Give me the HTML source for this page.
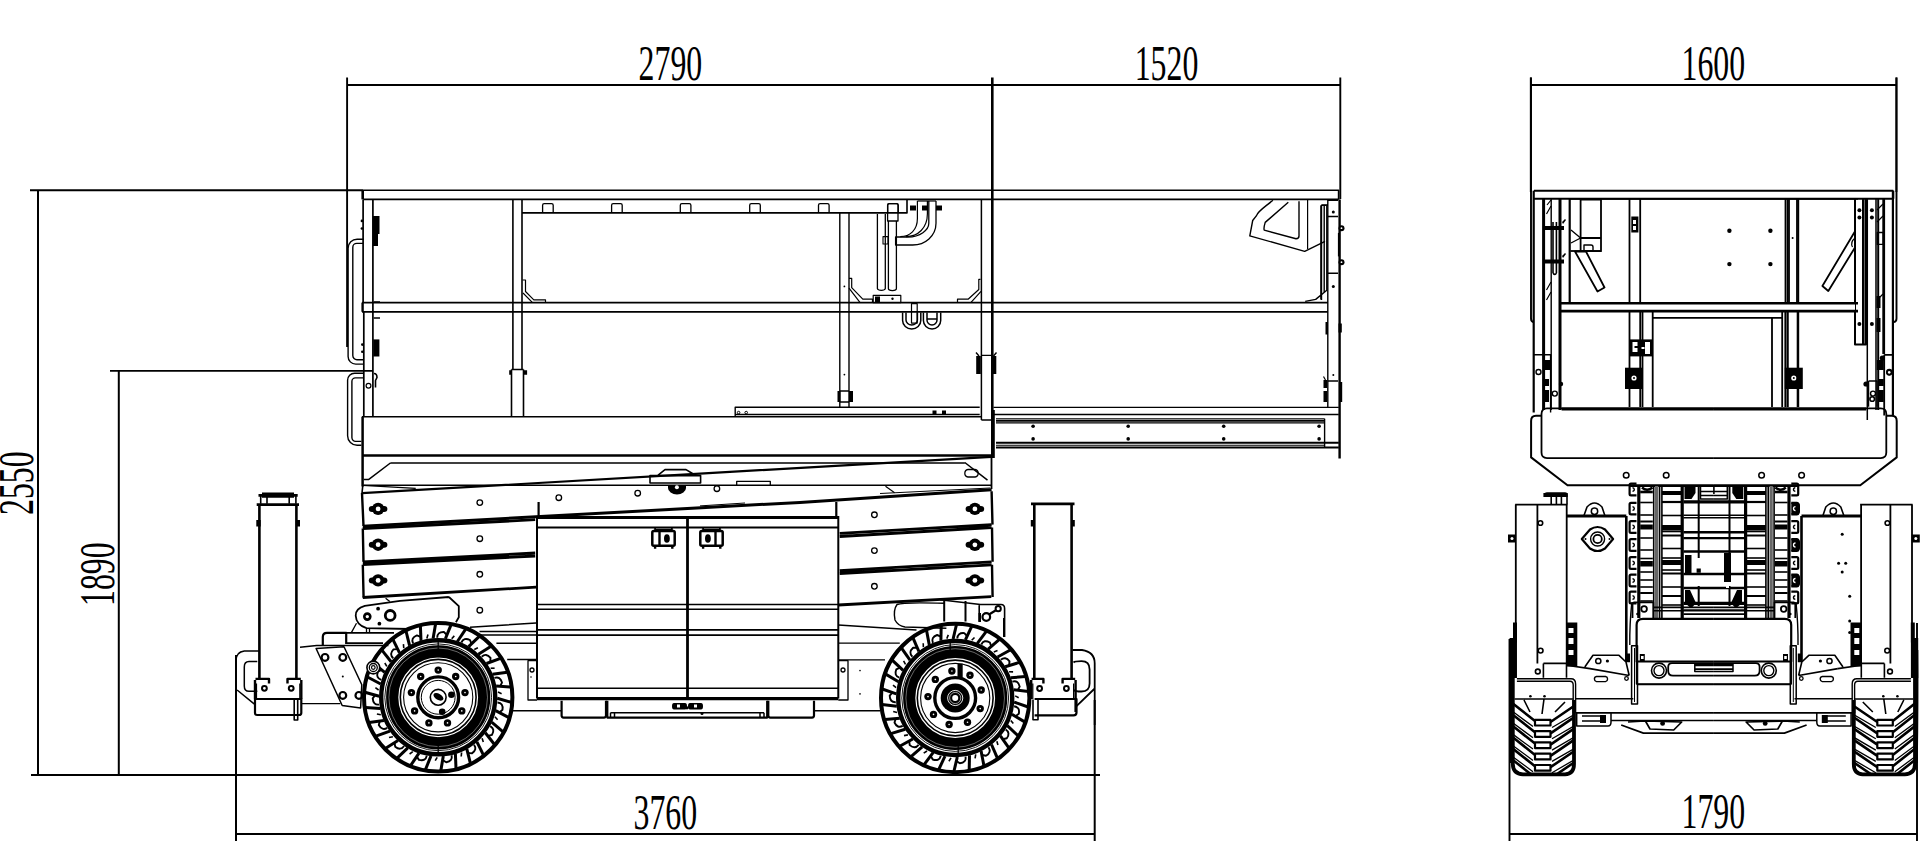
<!DOCTYPE html>
<html><head><meta charset="utf-8"><style>
html,body{margin:0;padding:0;background:#fff;width:1920px;height:842px;overflow:hidden}
svg{display:block}
.t{font-family:"Liberation Serif",serif;font-size:51px;fill:#000}
</style></head><body>
<svg width="1920" height="842" viewBox="0 0 1920 842">
<g fill="none" stroke="#000" stroke-width="1.6" stroke-linecap="butt" stroke-linejoin="round">
<path d="M347 85H1340" stroke-width="2.0" />
<path d="M347.1 77.5V347 M1340.3 77.5V199" stroke-width="1.9" />
<path d="M1530 85H1896.5" stroke-width="2.0" />
<path d="M1530.8 77.5V192 M1896.4 77.5V192" stroke-width="1.9" />
<path d="M30 190.3H363" stroke-width="1.9" />
<path d="M38 190V775" stroke-width="2.0" />
<path d="M110 370.9H373" stroke-width="1.9" />
<path d="M118.8 370.5V775" stroke-width="2.0" />
<path d="M31 775H1100" stroke-width="2.0" />
<path d="M236 655V841" stroke-width="2.0" />
<path d="M236 834H1095" stroke-width="2.0" />
<path d="M992.3 77.5V458" stroke-width="2.6" />
<path d="M363 190.3H1338.6V199.4 M363.3 199.4H1338.6" stroke-width="1.6" />
<path d="M361.4 190.5h2.6v8.9h-2.6z" fill="#000" stroke="none"/>
<path d="M522 212.9H907V199.4" stroke-width="1.6" />
<path d="M542.6 212.9V205.2q0-1.6 1.6-1.6h7.4q1.6 0 1.6 1.6V212.9" stroke-width="1.3" />
<path d="M611.6 212.9V205.2q0-1.6 1.6-1.6h7.4q1.6 0 1.6 1.6V212.9" stroke-width="1.3" />
<path d="M680.3 212.9V205.2q0-1.6 1.6-1.6h7.4q1.6 0 1.6 1.6V212.9" stroke-width="1.3" />
<path d="M749.7 212.9V205.2q0-1.6 1.6-1.6h7.4q1.6 0 1.6 1.6V212.9" stroke-width="1.3" />
<path d="M818.5 212.9V205.2q0-1.6 1.6-1.6h7.4q1.6 0 1.6 1.6V212.9" stroke-width="1.3" />
<path d="M887.7 212.9V205.2q0-1.6 1.6-1.6h7.4q1.6 0 1.6 1.6V212.9" stroke-width="1.3" />
<path d="M363.1 199.4V302.6 M363.8 311.8V416.7 M372.9 199.4V416.7" stroke-width="1.7" />
<path d="M512.9 199.4V369.5 M522 199.4V369.5 M511.5 369.5H523.5 M511.5 369.5V416.7 M523.5 369.5V416.7" stroke-width="1.6" />
<path d="M509.2 370.3h2.3v4.4h-2.3z M523.5 370.3h3.6v4.4h-3.6z" fill="#000" stroke="none"/>
<path d="M839.8 212.9V407.2 M849 212.9V407.2" stroke-width="1.4" />
<path d="M981.4 199.4V420 M981.4 420H991" stroke-width="1.5" />
<path d="M362 302.6H1327.8 M362 311.8H1327.8" stroke-width="1.7" />
<path d="M361.4 302.6h2.4v9.2h-2.4z" fill="#000" stroke="none"/>
<path d="M373.7 301.8H380 M373.7 318H380" stroke-width="1.3" />
<path d="M373 216h6.5v18h-1.5v12h-5z" fill="#000" stroke="none"/>
<path d="M373.2 339.4h6.2v17.1h-6.2z" fill="#000" stroke="none"/>
<circle cx="361.9" cy="220.9" r="1.3" stroke-width="0" fill="#000"/>
<circle cx="361.9" cy="228.5" r="1.3" stroke-width="0" fill="#000"/>
<circle cx="362.3" cy="344.6" r="1.3" stroke-width="0" fill="#000"/>
<circle cx="362.3" cy="351.8" r="1.3" stroke-width="0" fill="#000"/>
<circle cx="368.5" cy="385.7" r="2.4" stroke-width="1.2"/>
<path d="M374 373.5q3 0 3 4l-1.5 3v7" stroke-width="1.6" />
<path d="M363.8 239.2H357.1A9 9 0 0 0 348.1 248.2V356.5A7.6 7.6 0 0 0 355.7 364.1H363.8" stroke-width="1.4" />
<path d="M363 243.4H356.8A4 4 0 0 0 352.8 247.4V355.6A4.2 4.2 0 0 0 357 359.8H363" stroke-width="1.4" />
<path d="M363.3 373.3H354.6A7 7 0 0 0 347.6 380.3V435.7A9.5 9.5 0 0 0 357.1 445.2H361.4" stroke-width="1.4" />
<path d="M363.3 377.9H355.4A3.5 3.5 0 0 0 351.9 381.4V437.6A3.8 3.8 0 0 0 355.7 441.4H361.4" stroke-width="1.4" />
<path d="M522.5 280H525.5V291.5L533.8 299.8H545.5V302.6 M523 293L532.5 302.6" stroke-width="1.2" />
<path d="M849 278.4H851.7V287.7L862.8 299.2H872.5V302.6 M849 288.2L860.1 302.6" stroke-width="1.2" />
<path d="M980.5 279.3H978.8V289.5L968.1 299.2H957.5V302.6 M981 291.3L970.8 302.6" stroke-width="1.2" />
<path d="M877.4 214V288.6A4 2 0 0 0 885.3 288.6V214 M888.4 221V288.6A4 2 0 0 0 896.4 288.6V221" stroke-width="1.3" />
<path d="M887.6 212.9V205.2q0-1.6 1.6-1.6h7.2q1.6 0 1.6 1.6V221H887.6z" stroke-width="1.3" />
<path d="M883 236.6h5v7.4h-5z" stroke-width="1.1" />
<path d="M936 201V223.3C936 236 925 245 912.7 245H895.6V237H908C920 237 928.8 230 928.8 223.3V201" stroke-width="1.3" />
<path d="M927.4 201V213.8C927.4 228 918 236.6 906 236.6 M917.4 201V218.5C917.4 230 910 236.6 900.3 236.6" stroke-width="1.2" />
<path d="M917.4 201H936" stroke-width="1.2" />
<path d="M910 205.5h6v5h-6z" fill="#000" stroke="none"/>
<path d="M922 205.5h6v5h-6z" fill="#000" stroke="none"/>
<path d="M936 205.5h6v5h-6z" fill="#000" stroke="none"/>
<path d="M873.2 295.4H900.8V302.6H873.2Z" stroke-width="1.2" />
<path d="M875 296.5h5v5.5h-5z" fill="#000" stroke="none"/>
<circle cx="892.5" cy="298.8" r="1.2" stroke-width="0" fill="#000"/>
<path d="M902.6 312.5V320.5A9.1 8.4 0 0 0 920.8 320.5V312.5 M906 312.5V320A5.7 5 0 0 0 917.4 320V312.5" stroke-width="1.5" />
<path d="M923.4 312.5V320.5A8.65 8.4 0 0 0 940.7 320.5V312.5 M927 312.5V320A5 5 0 0 0 937 320V312.5 M927 319H937" stroke-width="1.5" />
<path d="M911.5 303.6h5.7v19.5h-5.7z" stroke-width="1.2" />
<path d="M1327.8 199.4V407 M1321.5 205V300 M1321.5 205H1327.8" stroke-width="1.4" />
<path d="M1339.6 199.4V458.6" stroke-width="2.4" />
<path d="M1272.9 200.2C1265 207 1258 211 1256.5 215.6L1252.7 220.5L1249.8 235.9L1304.7 251.3L1325 241.3" stroke-width="1.4" />
<path d="M1288.3 202.2L1265.2 222.4Q1263.5 228 1264.2 230.1L1296 238.8Q1299 238.5 1299 235.9V201.2" stroke-width="1.4" />
<path d="M1307.6 200V249" stroke-width="1.2" />
<path d="M1327.8 200.2H1338 M1327.8 216.5H1338 M1327.8 273.3H1338 M1327.8 381H1338" stroke-width="1.4" />
<path d="M1320.9 205.4V299.4 M1320.9 205.4H1326.8 M1326.8 205.4V290.3L1315.7 299.4L1305.2 301.4 M1324.2 205.4V292" stroke-width="1.4" />
<circle cx="1333.3" cy="212.0" r="1.5" stroke-width="0" fill="#000"/>
<circle cx="1333.3" cy="286.4" r="1.5" stroke-width="0" fill="#000"/>
<circle cx="1333.3" cy="375.0" r="1.0" stroke-width="0" fill="#000"/>
<circle cx="1341.5" cy="228.2" r="3.0" stroke-width="0" fill="#000"/>
<circle cx="1341.5" cy="228.2" r="0.9" stroke-width="0" fill="#fff"/>
<circle cx="1341.5" cy="262.2" r="3.0" stroke-width="0" fill="#000"/>
<circle cx="1341.5" cy="262.2" r="0.9" stroke-width="0" fill="#fff"/>
<path d="M1337.9 232.9h1.6v23.5h-1.6z" fill="#000" stroke="none"/>
<path d="M1325.5 322h2.5v12.6h-2.5z M1338.5 323.5h3.3v9h-3.3z" fill="#000" stroke="none"/>
<path d="M1323.5 380h3.5v8h-3.5z M1323.5 391h3.5v11h-3.5z M1339.2 382h3v20h-3z" fill="#000" stroke="none"/>
<path d="M1323.5 376.5L1325.5 380" stroke-width="1.2" />
<path d="M976.2 356h4.6v18h-4.6z M992 356h4.3v18h-4.3z" fill="#000" stroke="none"/>
<path d="M976 352.5L979 356 M996.5 352.5L993.5 356 M981.4 355.4H991" stroke-width="1.4" />
<path d="M837.5 391h3v11h-3z M849 391h4v11h-4z" fill="#000" stroke="none"/>
<path d="M840 391H849 M840 402H849" stroke-width="1.3" />
<circle cx="844.4" cy="286.4" r="0.9" stroke-width="0" fill="#000"/>
<circle cx="844.4" cy="374.6" r="0.9" stroke-width="0" fill="#000"/>
<circle cx="738.6" cy="412.6" r="1.3" stroke-width="1.0"/>
<circle cx="746.2" cy="412.6" r="1.3" stroke-width="1.0"/>
<path d="M932.5 410.5h4v4h-4z M942 410.5h4v4h-4z" fill="#000" stroke="none"/>
<path d="M735.2 416.7V407.2H979.7 M735.2 414.5H979.7" stroke-width="1.4" />
<path d="M362 416.7H981" stroke-width="1.6" />
<path d="M362 455.5H993" stroke-width="2.6" />
<path d="M362.6 416.7V486.5" stroke-width="2.5" />
<path d="M993.3 410V458" stroke-width="3.0" />
<path d="M390.4 463H964.8 M390.4 463L368.5 479.6H363.8 M964.8 462.5L987.5 480.2" stroke-width="1.5" />
<path d="M363.8 485.2H991.4" stroke-width="1.6" />
<path d="M991.5 458V489" stroke-width="1.8" />
<path d="M993.5 407.4H1338.8" stroke-width="1.4" />
<path d="M993.5 414.5H1338.8" stroke-width="1.6" />
<path d="M996 418.7H1324.6 M996 422.9H1324.6 M996 445.3H1324.6" stroke-width="1.1" />
<path d="M996 420.8H1324.6 M996 442.8H1338.8 M996 447.5H1338.8" stroke-width="2.0" />
<path d="M1324.6 418.7V447.5" stroke-width="1.4" />
<circle cx="1033.1" cy="426.3" r="1.8" stroke-width="0" fill="#000"/>
<circle cx="1033.1" cy="438.9" r="1.8" stroke-width="0" fill="#000"/>
<circle cx="1128.2" cy="426.3" r="1.8" stroke-width="0" fill="#000"/>
<circle cx="1128.2" cy="438.9" r="1.8" stroke-width="0" fill="#000"/>
<circle cx="1223.7" cy="426.3" r="1.8" stroke-width="0" fill="#000"/>
<circle cx="1223.7" cy="438.9" r="1.8" stroke-width="0" fill="#000"/>
<circle cx="1319.1" cy="426.3" r="1.8" stroke-width="0" fill="#000"/>
<circle cx="1319.1" cy="438.9" r="1.8" stroke-width="0" fill="#000"/>
<path d="M362 493.2L700 473.6L991.3 456.8" stroke-width="2.2" />
<path d="M362.8 485.4L415.7 488.3" stroke-width="1.3" />
<path d="M362.8 526.2L800 502.4L991.6 489.8" stroke-width="3.0" />
<path d="M362.8 485.4L362 493.2" stroke-width="1.6" />
<path d="M362.8 528.5L535.2 519.7 M362.8 561.8L535.2 553 M362.8 564.7L535.2 556" stroke-width="2.8" />
<path d="M362.8 597.5L536.1 587.1" stroke-width="2.8" />
<path d="M362 493L363.5 526 M362.8 528.5L363.5 561.8 M362.8 564.7L363.6 597.7" stroke-width="2.4" />
<path d="M839.7 533.4L991.6 524.6 M839.7 536.5L991.6 527.5 M839.7 570.6L991.6 561.8 M839.7 573.5L991.6 564.8 M838.3 605L991.3 596.6" stroke-width="2.8" />
<path d="M991.6 491.3L992.5 524.6 M992 527.5L992.6 561.8 M992 564.8L992.6 597" stroke-width="2.4" />
<path d="M700 505.9L745 503 M880 493.5L990 488" stroke-width="1.0" />
<path d="M885.5 486.3L894.6 492.8" stroke-width="1.2" />
<circle cx="378.1" cy="508.9" r="6.2" stroke-width="0" fill="#000"/>
<path d="M368.8 508.9Q368.8 505.9 372.1 505.9H384.1Q387.40000000000003 505.9 387.40000000000003 508.9Q387.40000000000003 511.9 384.1 511.9H372.1Q368.8 511.9 368.8 508.9Z" fill="#000" stroke="none"/>
<circle cx="378.1" cy="508.9" r="2.4" stroke-width="0" fill="#fff"/>
<circle cx="378.1" cy="544.7" r="6.2" stroke-width="0" fill="#000"/>
<path d="M368.8 544.7Q368.8 541.7 372.1 541.7H384.1Q387.40000000000003 541.7 387.40000000000003 544.7Q387.40000000000003 547.7 384.1 547.7H372.1Q368.8 547.7 368.8 544.7Z" fill="#000" stroke="none"/>
<circle cx="378.1" cy="544.7" r="2.4" stroke-width="0" fill="#fff"/>
<circle cx="378.1" cy="580.4" r="6.2" stroke-width="0" fill="#000"/>
<path d="M368.8 580.4Q368.8 577.4 372.1 577.4H384.1Q387.40000000000003 577.4 387.40000000000003 580.4Q387.40000000000003 583.4 384.1 583.4H372.1Q368.8 583.4 368.8 580.4Z" fill="#000" stroke="none"/>
<circle cx="378.1" cy="580.4" r="2.4" stroke-width="0" fill="#fff"/>
<circle cx="974.9" cy="508.9" r="6.2" stroke-width="0" fill="#000"/>
<path d="M965.6 508.9Q965.6 505.9 968.9 505.9H980.9Q984.1999999999999 505.9 984.1999999999999 508.9Q984.1999999999999 511.9 980.9 511.9H968.9Q965.6 511.9 965.6 508.9Z" fill="#000" stroke="none"/>
<circle cx="974.9" cy="508.9" r="2.4" stroke-width="0" fill="#fff"/>
<circle cx="974.9" cy="544.8" r="6.2" stroke-width="0" fill="#000"/>
<path d="M965.6 544.8Q965.6 541.8 968.9 541.8H980.9Q984.1999999999999 541.8 984.1999999999999 544.8Q984.1999999999999 547.8 980.9 547.8H968.9Q965.6 547.8 965.6 544.8Z" fill="#000" stroke="none"/>
<circle cx="974.9" cy="544.8" r="2.4" stroke-width="0" fill="#fff"/>
<circle cx="974.9" cy="580.4" r="6.2" stroke-width="0" fill="#000"/>
<path d="M965.6 580.4Q965.6 577.4 968.9 577.4H980.9Q984.1999999999999 577.4 984.1999999999999 580.4Q984.1999999999999 583.4 980.9 583.4H968.9Q965.6 583.4 965.6 580.4Z" fill="#000" stroke="none"/>
<circle cx="974.9" cy="580.4" r="2.4" stroke-width="0" fill="#fff"/>
<circle cx="479.8" cy="502.6" r="2.8" stroke-width="1.3"/>
<circle cx="479.8" cy="538.7" r="2.8" stroke-width="1.3"/>
<circle cx="479.8" cy="574.3" r="2.8" stroke-width="1.3"/>
<circle cx="479.8" cy="610.2" r="2.8" stroke-width="1.3"/>
<circle cx="558.8" cy="497.7" r="2.8" stroke-width="1.3"/>
<circle cx="637.7" cy="493.2" r="2.8" stroke-width="1.3"/>
<circle cx="874.4" cy="514.8" r="2.8" stroke-width="1.3"/>
<circle cx="874.4" cy="550.6" r="2.8" stroke-width="1.3"/>
<circle cx="874.4" cy="586.3" r="2.8" stroke-width="1.3"/>
<circle cx="716.9" cy="488.7" r="2.8" stroke-width="1.3"/>
<path d="M650 475.6H700.6V483H650Z M657.5 475.6L665 469.6H686L692.5 473.5" stroke-width="1.6" />
<path d="M668 485.4h18v2.5a9 6.5 0 0 1-18 0z" fill="#000" stroke="none"/>
<circle cx="676.9" cy="487.2" r="2.0" stroke-width="0" fill="#fff"/>
<path d="M736.7 485.2V481.4H770.3V485.2" stroke-width="1.3" />
<path d="M968 469.5H975A3.8 3.8 0 0 1 975 477H968A3.8 3.8 0 0 1 968 469.5Z" stroke-width="1.3" />
<path d="M538.6 502V517 M836.3 502V517" stroke-width="2.2" />
<path d="M537 517.5H838.3" stroke-width="3.2" />
<path d="M537 517V698.6 M838.3 516V698.6" stroke-width="2.0" />
<path d="M537 698.6H838.3" stroke-width="3.2" />
<path d="M687.5 517V698" stroke-width="2.8" />
<path d="M537 527.5H838.3" stroke-width="2.0" />
<path d="M537 604.5H838.3 M537 609.3H838.3 M537 629.9H838.3 M537 635.1H838.3 M537 688.2H838.3" stroke-width="1.6" />
<path d="M653.8 531.1H673.1999999999999Q674.6999999999999 531.1 674.6999999999999 532.6V544.2Q674.6999999999999 545.7 673.1999999999999 545.7H653.8Q652.3 545.7 652.3 544.2V532.6Q652.3 531.1 653.8 531.1Z" stroke-width="2.5" />
<path d="M659.5 531.5V545.3" stroke-width="2.4" />
<ellipse cx="666.9" cy="538.5" rx="2.9" ry="4.3" fill="#000" stroke="none"/>
<path d="M655.0999999999999 527.5V531 M671.9 527.5V531 M655.8 529.6H671.3" stroke-width="1.8" />
<path d="M653.9 545.5h2.4v3.2h-2.4z M671.0999999999999 545.5h2.4v3.2h-2.4z" fill="#000" stroke="none"/>
<path d="M701.8 531.1H721.1999999999999Q722.6999999999999 531.1 722.6999999999999 532.6V544.2Q722.6999999999999 545.7 721.1999999999999 545.7H701.8Q700.3 545.7 700.3 544.2V532.6Q700.3 531.1 701.8 531.1Z" stroke-width="2.5" />
<path d="M715.5 531.5V545.3" stroke-width="2.4" />
<ellipse cx="707.9" cy="538.5" rx="2.9" ry="4.3" fill="#000" stroke="none"/>
<path d="M703.0999999999999 527.5V531 M719.9 527.5V531 M703.8 529.6H719.3" stroke-width="1.8" />
<path d="M701.9 545.5h2.4v3.2h-2.4z M719.0999999999999 545.5h2.4v3.2h-2.4z" fill="#000" stroke="none"/>
<path d="M512 710.7H561.8 M814 710.7H880" stroke-width="1.6" />
<path d="M561.6 700.8V715.6Q561.6 717.6 563.6 717.6H604Q606 717.6 606 715.6V700.8" stroke-width="2.2" />
<path d="M607.3 700.8V717.6H767.2V700.8" stroke-width="2.2" />
<path d="M610.5 712.7H764 M610.5 712.7V717.6 M614.5 712.7V717.6 M760 712.7V717.6 M764 712.7V717.6" stroke-width="1.5" />
<path d="M768.3 700.8V715.6Q768.3 717.6 770.3 717.6H812Q814 717.6 814 715.6V700.8" stroke-width="2.2" />
<path d="M674 703h11q2 0 2 3.2t-2 3.2h-11q-2 0-2-3.2t2-3.2z M690 703h11q2 0 2 3.2t-2 3.2h-11q-2 0-2-3.2t2-3.2z" fill="#000" stroke="none"/>
<path d="M677 704.5h3v3h-3zM694 704.5h3v3h-3z" fill="#fff" stroke="none"/>
<circle cx="687.0" cy="707.8" r="1.6" stroke-width="0" fill="#000"/>
<circle cx="702.0" cy="713.5" r="1.5" stroke-width="0" fill="#000"/>
<path d="M537 660.7H528V700H537 M838.3 660.7H848V700H838.3" stroke-width="1.3" />
<circle cx="532.0" cy="670.0" r="2.0" stroke-width="1.3"/>
<circle cx="843.0" cy="670.0" r="2.0" stroke-width="1.3"/>
<circle cx="860.0" cy="670.6" r="0.8" stroke-width="0" fill="#000"/>
<circle cx="860.0" cy="693.9" r="0.8" stroke-width="0" fill="#000"/>
<circle cx="531.0" cy="677.0" r="0.8" stroke-width="0" fill="#000"/>
<path d="M448.9 597L458.8 606.1V617.3L455.9 622.3 M448.9 597L400 600.8L364.8 605.8C358.5 607.5 355.5 611.5 355.7 615.8C356 621 359.5 626 366.5 628.2L410 629" stroke-width="1.8" />
<circle cx="367.3" cy="616.6" r="3.0" stroke-width="2.6"/>
<circle cx="390.2" cy="615.4" r="4.9" stroke-width="2.8"/>
<circle cx="378.1" cy="608.7" r="1.9" stroke-width="0" fill="#000"/>
<circle cx="379.4" cy="623.7" r="1.9" stroke-width="0" fill="#000"/>
<path d="M356.5 623.3L351.5 632.4 M366.5 628.5V633 M369.5 628.5V633 M385.6 598.3L389.8 601.6" stroke-width="1.3" />
<path d="M470 627.2L536.1 623 M916.5 629.9L838.3 624.9" stroke-width="1.5" />
<path d="M944 603.3Q903 602 897 604.5Q893 610 895 620Q898 626 905 627L946.4 628.2" stroke-width="1.4" />
<path d="M944.2 600.8V621.6 M965.5 601V621.6" stroke-width="2.0" />
<path d="M940 599.8L980.4 604.5H1001Q1004.6 604.5 1004.6 608.5V637 M979.2 605V621.8" stroke-width="1.6" />
<circle cx="986.3" cy="617.0" r="3.8" stroke-width="2.2"/>
<circle cx="998.2" cy="608.7" r="2.6" stroke-width="2.0"/>
<path d="M989 614.5L995.5 610.5" stroke-width="2.2" />
<path d="M978.5 613h2.5v9h-2.5z" fill="#000" stroke="none"/>
<path d="M1003.6 618V637" stroke-width="1.2" />
<path d="M346.2 632.8H394 M346.2 643.2H383" stroke-width="1.7" />
<path d="M322.8 645V637Q322.8 632.8 327 632.8H346.2V644" stroke-width="2.2" />
<path d="M300 647.3L316.7 645.5H388.4" stroke-width="1.5" />
<path d="M479.5 631.5H537 M481 635H537 M496.4 643.3H537 M507.2 659.5H537" stroke-width="1.6" />
<path d="M838.3 643.2H899.8 M838.3 659.8H885" stroke-width="1.3" />
<path d="M301.3 703.7H340.4" stroke-width="1.3" />
<path d="M316.1 648.5L342.2 705.5L360.6 707.9L361.8 684.7L344 646.7Z" stroke-width="1.5" />
<circle cx="325.0" cy="657.4" r="3.4" stroke-width="2.2"/>
<circle cx="342.8" cy="657.4" r="3.4" stroke-width="2.2"/>
<circle cx="342.8" cy="695.4" r="3.4" stroke-width="2.2"/>
<circle cx="358.9" cy="695.4" r="3.4" stroke-width="2.2"/>
<circle cx="342.8" cy="676.4" r="1.0" stroke-width="0" fill="#000"/>
<path d="M259.4 504.6V678.2 M296.4 504.6V678.2" stroke-width="2.6" />
<path d="M256.7 504.6H299" stroke-width="2.8" />
<path d="M260.7 503.7V494.8 M267 503.7V497 M289.2 503.7V497 M295.9 503.7V494.8" stroke-width="1.6" />
<path d="M258.5 494h39.2v2.8h-39.2z M262 492.6h32v5.2h-32z" fill="#000" stroke="none"/>
<path d="M256.3 520h4.4v6.6h-4.4z M296.4 520h3.6v6.6h-3.6z" fill="#000" stroke="none"/>
<path d="M255 680V699 M255.5 678.9H269V683.5 M301.3 680V699 M300.8 678.9H287.5V683.5" stroke-width="2.4" />
<path d="M256.5 683.5V699 M299.8 683.5V699" stroke-width="1.2" />
<path d="M255 699H301.3V713Q301.3 715 299 715H257Q255 715 255 713Z" stroke-width="2.2" />
<path d="M294.2 699V720H297.7V699" stroke-width="1.6" />
<circle cx="264.4" cy="688.3" r="2.4" stroke-width="2.0"/>
<circle cx="291.2" cy="688.3" r="2.4" stroke-width="2.0"/>
<path d="M259 650.9H244.3Q236 652 236 660.4 M237.1 690L253.8 703.7H256" stroke-width="1.5" />
<path d="M257.3 661.6H249Q244.3 661.6 244.3 667V686Q244.3 691.3 249 691.3H257.3" stroke-width="1.5" />
<path d="M1034.3 503.6V678.9 M1071.6 503.6V678.9" stroke-width="2.6" />
<path d="M1031 503.8H1074.5" stroke-width="2.8" />
<path d="M1030.8 520h3v6.6h-3z M1071.6 520h3.2v6.6h-3.2z" fill="#000" stroke="none"/>
<path d="M1031.2 680V699 M1031.6 678.9H1043.4V683.5 M1075.6 680V712 M1075.2 678.9H1062.6V683.5" stroke-width="2.4" />
<path d="M1032.8 683.5V699 M1073.6 683.5V699" stroke-width="1.2" />
<path d="M1034.6 699H1076.5V712.5Q1076.5 715.3 1073.5 715.3H1034.6" stroke-width="2.2" />
<path d="M1033 699.6V719.8H1038V699.6" stroke-width="1.6" />
<circle cx="1039.6" cy="688.5" r="2.4" stroke-width="2.0"/>
<circle cx="1066.4" cy="688.5" r="2.4" stroke-width="2.0"/>
<path d="M1072.5 650H1082Q1094.7 652 1094.7 663.2V725 M1094.7 688.5L1076 706.7" stroke-width="1.8" />
<path d="M1073.5 662.5Q1075 661.2 1081.5 661.2Q1089.6 661.2 1089.6 669.5V683.5Q1089.6 691.5 1081.5 691.5Q1075 691.5 1073.5 690" stroke-width="1.8" />
<path d="M1094.7 700V841" stroke-width="2.0" />
<circle cx="438.2" cy="697.3" r="74.2" stroke-width="4.0"/>
<path d="M497.2 698.3L511.5 702.4" stroke-width="3.0" />
<path d="M497.5 702.5Q503.5 703.0 502.5 709.8L499.4 712.4" stroke-width="1.9" />
<path d="M495.7 710.6L508.9 717.6" stroke-width="3.0" />
<path d="M494.9 716.8L497.6 719.8" stroke-width="1.6" />
<path d="M491.7 722.2L503.1 731.8" stroke-width="3.0" />
<path d="M490.2 726.1Q495.5 729.1 491.9 734.9L487.9 736.0" stroke-width="1.9" />
<path d="M485.3 732.8L494.5 744.5" stroke-width="3.0" />
<path d="M482.1 738.2L483.3 742.0" stroke-width="1.6" />
<path d="M476.9 741.8L483.5 755.2" stroke-width="3.0" />
<path d="M474.0 744.8Q477.6 749.6 471.9 753.4L467.9 752.9" stroke-width="1.9" />
<path d="M466.8 748.9L470.4 763.4" stroke-width="3.0" />
<path d="M461.6 752.5L461.2 756.5" stroke-width="1.6" />
<path d="M455.4 753.7L456.0 768.6" stroke-width="3.0" />
<path d="M451.6 755.3Q452.9 761.1 446.2 762.3L442.7 760.1" stroke-width="1.9" />
<path d="M443.3 756.1L440.8 770.8" stroke-width="3.0" />
<path d="M437.2 757.3L435.2 760.7" stroke-width="1.6" />
<path d="M431.0 755.9L425.4 769.7" stroke-width="3.0" />
<path d="M426.8 755.7Q425.7 761.6 419.0 759.9L416.8 756.6" stroke-width="1.9" />
<path d="M419.0 753.1L410.7 765.4" stroke-width="3.0" />
<path d="M412.8 751.7L409.6 754.0" stroke-width="1.6" />
<path d="M407.8 747.9L397.1 758.2" stroke-width="3.0" />
<path d="M404.1 746.0Q400.6 751.0 395.2 746.7L394.5 742.7" stroke-width="1.9" />
<path d="M398.0 740.4L385.3 748.4" stroke-width="3.0" />
<path d="M392.9 736.7L389.0 737.5" stroke-width="1.6" />
<path d="M389.9 731.1L375.9 736.2" stroke-width="3.0" />
<path d="M387.2 727.9Q382.1 731.0 378.8 725.0L379.8 721.0" stroke-width="1.9" />
<path d="M383.9 720.4L369.1 722.4" stroke-width="3.0" />
<path d="M380.8 714.8L376.9 714.0" stroke-width="1.6" />
<path d="M380.3 708.6L365.4 707.5" stroke-width="3.0" />
<path d="M379.1 704.6Q373.2 705.3 372.7 698.4L375.2 695.2" stroke-width="1.9" />
<path d="M379.2 696.3L364.9 692.2" stroke-width="3.0" />
<path d="M378.6 690.0L375.4 687.7" stroke-width="1.6" />
<path d="M380.7 684.0L367.5 677.0" stroke-width="3.0" />
<path d="M381.3 679.9Q375.6 678.1 377.9 671.7L381.5 669.8" stroke-width="1.9" />
<path d="M384.7 672.4L373.3 662.8" stroke-width="3.0" />
<path d="M386.8 666.4L384.8 663.0" stroke-width="1.6" />
<path d="M391.1 661.8L381.9 650.1" stroke-width="3.0" />
<path d="M393.3 658.3Q388.8 654.3 393.5 649.4L397.6 649.1" stroke-width="1.9" />
<path d="M399.5 652.8L392.9 639.4" stroke-width="3.0" />
<path d="M403.8 648.2L403.4 644.2" stroke-width="1.6" />
<path d="M409.6 645.7L406.0 631.2" stroke-width="3.0" />
<path d="M413.1 643.4Q410.5 637.9 416.9 635.4L420.7 636.8" stroke-width="1.9" />
<path d="M421.0 640.9L420.4 626.0" stroke-width="3.0" />
<path d="M426.8 638.4L428.0 634.6" stroke-width="1.6" />
<path d="M433.1 638.5L435.6 623.8" stroke-width="3.0" />
<path d="M437.2 637.8Q437.1 631.8 443.9 632.0L446.8 634.9" stroke-width="1.9" />
<path d="M445.4 638.7L451.0 624.9" stroke-width="3.0" />
<path d="M451.7 638.8L454.3 635.9" stroke-width="1.6" />
<path d="M457.4 641.5L465.7 629.2" stroke-width="3.0" />
<path d="M461.4 642.5Q463.8 637.0 470.0 640.0L471.5 643.8" stroke-width="1.9" />
<path d="M468.6 646.7L479.3 636.4" stroke-width="3.0" />
<path d="M474.3 649.4L477.9 647.8" stroke-width="1.6" />
<path d="M478.4 654.2L491.1 646.2" stroke-width="3.0" />
<path d="M481.7 656.7Q486.1 652.6 490.5 657.9L490.3 661.9" stroke-width="1.9" />
<path d="M486.5 663.5L500.5 658.4" stroke-width="3.0" />
<path d="M490.7 668.2L494.6 668.2" stroke-width="1.6" />
<path d="M492.5 674.2L507.3 672.2" stroke-width="3.0" />
<path d="M494.5 677.9Q500.1 676.0 502.0 682.6L500.2 686.2" stroke-width="1.9" />
<path d="M496.1 686.0L511.0 687.1" stroke-width="3.0" />
<path d="M498.0 692.1L501.6 693.7" stroke-width="1.6" />
<circle cx="438.2" cy="697.3" r="57.0" stroke-width="4.4"/>
<circle cx="438.2" cy="697.3" r="53.4" stroke-width="0.9"/>
<circle cx="438.2" cy="697.3" r="46.0" stroke-width="12.2"/>
<circle cx="438.2" cy="697.3" r="49.3" stroke="#fff" stroke-width="0.4"/>
<circle cx="438.2" cy="697.3" r="37.9" stroke-width="1.6"/>
<circle cx="438.2" cy="697.3" r="34.6" stroke-width="1.1"/>
<circle cx="438.2" cy="670.1" r="3.7" stroke-width="0" fill="#000"/>
<circle cx="438.2" cy="670.1" r="0.8" stroke-width="0" fill="#fff"/>
<circle cx="455.7" cy="676.5" r="3.7" stroke-width="0" fill="#000"/>
<circle cx="455.7" cy="676.5" r="0.8" stroke-width="0" fill="#fff"/>
<circle cx="465.0" cy="692.6" r="3.7" stroke-width="0" fill="#000"/>
<circle cx="465.0" cy="692.6" r="0.8" stroke-width="0" fill="#fff"/>
<circle cx="461.8" cy="710.9" r="3.7" stroke-width="0" fill="#000"/>
<circle cx="461.8" cy="710.9" r="0.8" stroke-width="0" fill="#fff"/>
<circle cx="447.5" cy="722.9" r="3.7" stroke-width="0" fill="#000"/>
<circle cx="447.5" cy="722.9" r="0.8" stroke-width="0" fill="#fff"/>
<circle cx="428.9" cy="722.9" r="3.7" stroke-width="0" fill="#000"/>
<circle cx="428.9" cy="722.9" r="0.8" stroke-width="0" fill="#fff"/>
<circle cx="414.6" cy="710.9" r="3.7" stroke-width="0" fill="#000"/>
<circle cx="414.6" cy="710.9" r="0.8" stroke-width="0" fill="#fff"/>
<circle cx="411.4" cy="692.6" r="3.7" stroke-width="0" fill="#000"/>
<circle cx="411.4" cy="692.6" r="0.8" stroke-width="0" fill="#fff"/>
<circle cx="420.7" cy="676.5" r="3.7" stroke-width="0" fill="#000"/>
<circle cx="420.7" cy="676.5" r="0.8" stroke-width="0" fill="#fff"/>
<circle cx="438.2" cy="697.3" r="20.4" stroke-width="3.4"/>
<circle cx="438.2" cy="697.3" r="16.9" stroke-width="1.0"/>
<circle cx="438.2" cy="697.3" r="7.9" stroke-width="1.6"/>
<ellipse cx="438.2" cy="696.8" rx="5.5" ry="3" transform="rotate(30 438.2 697.3)" fill="#000" stroke="none"/>
<circle cx="451.4" cy="694.8" r="3.3" stroke-width="0" fill="#000"/>
<circle cx="442.2" cy="711.8" r="3.3" stroke-width="0" fill="#000"/>
<path d="M438.2 640.3V657.3 M438.2 737.3V754.3" stroke-width="1.3" />
<circle cx="373.3" cy="667.5" r="6.4" fill="#fff" stroke="#000" stroke-width="1.6"/>
<circle cx="373.3" cy="667.5" r="4.0" stroke-width="1.3"/>
<circle cx="373.3" cy="667.5" r="1.8" stroke-width="1.2"/>
<circle cx="955.2" cy="698.0" r="74.2" stroke-width="4.0"/>
<path d="M1014.1 702.1L1028.2 707.0" stroke-width="3.0" />
<path d="M1014.1 706.3Q1020.1 707.1 1018.8 713.8L1015.5 716.3" stroke-width="1.9" />
<path d="M1011.9 714.3L1024.7 721.9" stroke-width="3.0" />
<path d="M1010.8 720.5L1013.3 723.5" stroke-width="1.6" />
<path d="M1007.3 725.7L1018.2 735.9" stroke-width="3.0" />
<path d="M1005.7 729.5Q1010.7 732.7 1006.8 738.3L1002.8 739.2" stroke-width="1.9" />
<path d="M1000.4 735.9L1009.0 748.1" stroke-width="3.0" />
<path d="M996.9 741.2L997.9 745.0" stroke-width="1.6" />
<path d="M991.5 744.5L997.4 758.2" stroke-width="3.0" />
<path d="M988.5 747.3Q991.8 752.3 986.0 755.8L982.0 755.0" stroke-width="1.9" />
<path d="M981.1 751.0L983.9 765.7" stroke-width="3.0" />
<path d="M975.7 754.4L975.1 758.3" stroke-width="1.6" />
<path d="M969.5 755.2L969.2 770.1" stroke-width="3.0" />
<path d="M965.5 756.6Q966.6 762.5 959.8 763.3L956.4 761.0" stroke-width="1.9" />
<path d="M957.3 757.0L953.9 771.5" stroke-width="3.0" />
<path d="M951.0 757.9L948.9 761.2" stroke-width="1.6" />
<path d="M945.0 756.1L938.7 769.6" stroke-width="3.0" />
<path d="M940.8 755.7Q939.4 761.6 932.8 759.5L930.7 756.0" stroke-width="1.9" />
<path d="M933.1 752.7L924.1 764.6" stroke-width="3.0" />
<path d="M927.0 751.0L923.7 753.1" stroke-width="1.6" />
<path d="M922.2 746.9L911.0 756.7" stroke-width="3.0" />
<path d="M918.6 744.9Q914.9 749.6 909.7 745.1L909.2 741.1" stroke-width="1.9" />
<path d="M912.8 739.0L899.7 746.2" stroke-width="3.0" />
<path d="M907.9 734.9L904.0 735.6" stroke-width="1.6" />
<path d="M905.2 729.3L890.9 733.6" stroke-width="3.0" />
<path d="M902.7 725.9Q897.4 728.8 894.5 722.5L895.7 718.7" stroke-width="1.9" />
<path d="M899.8 718.2L884.9 719.5" stroke-width="3.0" />
<path d="M897.0 712.5L893.2 711.5" stroke-width="1.6" />
<path d="M896.8 706.2L882.0 704.4" stroke-width="3.0" />
<path d="M895.8 702.2Q889.9 702.6 889.7 695.7L892.4 692.7" stroke-width="1.9" />
<path d="M896.3 693.9L882.2 689.0" stroke-width="3.0" />
<path d="M896.1 687.6L893.0 685.1" stroke-width="1.6" />
<path d="M898.5 681.7L885.7 674.1" stroke-width="3.0" />
<path d="M899.3 677.6Q893.7 675.6 896.3 669.3L900.0 667.6" stroke-width="1.9" />
<path d="M903.1 670.3L892.2 660.1" stroke-width="3.0" />
<path d="M905.5 664.4L903.6 660.9" stroke-width="1.6" />
<path d="M910.0 660.1L901.4 647.9" stroke-width="3.0" />
<path d="M912.4 656.7Q908.1 652.5 913.1 647.8L917.2 647.8" stroke-width="1.9" />
<path d="M918.9 651.5L913.0 637.8" stroke-width="3.0" />
<path d="M923.4 647.1L923.2 643.2" stroke-width="1.6" />
<path d="M929.3 645.0L926.5 630.3" stroke-width="3.0" />
<path d="M932.9 642.8Q930.7 637.3 937.1 635.0L940.9 636.6" stroke-width="1.9" />
<path d="M940.9 640.8L941.2 625.9" stroke-width="3.0" />
<path d="M946.8 638.6L948.3 634.9" stroke-width="1.6" />
<path d="M953.1 639.0L956.5 624.5" stroke-width="3.0" />
<path d="M957.3 638.5Q957.5 632.5 964.3 633.1L967.1 636.1" stroke-width="1.9" />
<path d="M965.4 639.9L971.7 626.4" stroke-width="3.0" />
<path d="M971.7 640.3L974.5 637.5" stroke-width="1.6" />
<path d="M977.3 643.3L986.3 631.4" stroke-width="3.0" />
<path d="M981.3 644.5Q983.9 639.1 989.9 642.5L991.2 646.3" stroke-width="1.9" />
<path d="M988.2 649.1L999.4 639.3" stroke-width="3.0" />
<path d="M993.8 652.0L997.5 650.6" stroke-width="1.6" />
<path d="M997.6 657.0L1010.7 649.8" stroke-width="3.0" />
<path d="M1000.8 659.8Q1005.4 655.9 1009.5 661.4L1009.1 665.4" stroke-width="1.9" />
<path d="M1005.2 666.7L1019.5 662.4" stroke-width="3.0" />
<path d="M1009.1 671.7L1013.1 671.9" stroke-width="1.6" />
<path d="M1010.6 677.8L1025.5 676.5" stroke-width="3.0" />
<path d="M1012.4 681.6Q1018.2 679.9 1019.7 686.6L1017.7 690.2" stroke-width="1.9" />
<path d="M1013.6 689.8L1028.4 691.6" stroke-width="3.0" />
<path d="M1015.2 695.9L1018.7 697.7" stroke-width="1.6" />
<circle cx="955.2" cy="698.0" r="57.0" stroke-width="4.4"/>
<circle cx="955.2" cy="698.0" r="53.4" stroke-width="0.9"/>
<circle cx="955.2" cy="698.0" r="46.0" stroke-width="12.2"/>
<circle cx="955.2" cy="698" r="49.3" stroke="#fff" stroke-width="0.4"/>
<circle cx="955.2" cy="698.0" r="37.9" stroke-width="1.6"/>
<circle cx="955.2" cy="698.0" r="34.6" stroke-width="1.1"/>
<circle cx="951.9" cy="671.0" r="3.7" stroke-width="0" fill="#000"/>
<circle cx="951.9" cy="671.0" r="0.8" stroke-width="0" fill="#fff"/>
<circle cx="970.0" cy="675.2" r="3.7" stroke-width="0" fill="#000"/>
<circle cx="970.0" cy="675.2" r="0.8" stroke-width="0" fill="#fff"/>
<circle cx="981.2" cy="690.0" r="3.7" stroke-width="0" fill="#000"/>
<circle cx="981.2" cy="690.0" r="0.8" stroke-width="0" fill="#fff"/>
<circle cx="980.2" cy="708.6" r="3.7" stroke-width="0" fill="#000"/>
<circle cx="980.2" cy="708.6" r="0.8" stroke-width="0" fill="#fff"/>
<circle cx="967.5" cy="722.2" r="3.7" stroke-width="0" fill="#000"/>
<circle cx="967.5" cy="722.2" r="0.8" stroke-width="0" fill="#fff"/>
<circle cx="949.1" cy="724.5" r="3.7" stroke-width="0" fill="#000"/>
<circle cx="949.1" cy="724.5" r="0.8" stroke-width="0" fill="#fff"/>
<circle cx="933.5" cy="714.4" r="3.7" stroke-width="0" fill="#000"/>
<circle cx="933.5" cy="714.4" r="0.8" stroke-width="0" fill="#fff"/>
<circle cx="928.0" cy="696.6" r="3.7" stroke-width="0" fill="#000"/>
<circle cx="928.0" cy="696.6" r="0.8" stroke-width="0" fill="#fff"/>
<circle cx="935.3" cy="679.4" r="3.7" stroke-width="0" fill="#000"/>
<circle cx="935.3" cy="679.4" r="0.8" stroke-width="0" fill="#fff"/>
<circle cx="955.2" cy="698.0" r="20.4" stroke-width="3.4"/>
<circle cx="955.2" cy="698.0" r="14.5" stroke-width="0" fill="#000"/>
<circle cx="955.2" cy="698" r="7.6" stroke="#fff" stroke-width="0.9"/>
<circle cx="955.2" cy="698" r="5.6" stroke="#fff" stroke-width="0.6"/>
<circle cx="955.2" cy="698.0" r="3.0" stroke-width="0" fill="#fff"/>
<path d="M957.5 663.7h5.2v15h-5.2z" fill="#000" stroke="none"/>
<path d="M950.2 641V658 M958.2 738V755" stroke-width="1.3" />
<path d="M1629.5 199V407 M1640.2 199V407 M1642.5 312V407" stroke-width="1.8" />
<path d="M1625 367.7h18v21.3h-18z" fill="#000" stroke="none"/>
<circle cx="1634.0" cy="378.0" r="2.6" stroke-width="0" fill="#fff"/>
<circle cx="1634.0" cy="378.0" r="1.0" stroke-width="0" fill="#000"/>
<path d="M1544 379h5v7h-5z M1544 390h5v12h-5z" fill="#000" stroke="none"/>
<circle cx="1538.5" cy="372.0" r="2.5" stroke-width="1.4"/>
<circle cx="1554.8" cy="393.6" r="2.5" stroke-width="1.4"/>
<circle cx="1561.0" cy="384.0" r="2.2" stroke-width="0" fill="#000"/>
<path d="M1544 360h7v10h-7z" fill="#000" stroke="none"/>
<path d="M1561.6 409.1H1713.9" stroke-width="3.0" />
<path d="M1713.9 408.4H1547Q1541.5 408.4 1541.5 414V452.6Q1541.5 458.1 1547 458.1H1713.9" stroke-width="1.8" />
<path d="M1713.9 485.3H1567.5L1531.1 457.4V421Q1531.1 415.8 1536 415.8H1541.5" stroke-width="2.0" />
<circle cx="1626.2" cy="475.2" r="2.8" stroke-width="1.5"/>
<circle cx="1666.2" cy="475.2" r="2.8" stroke-width="1.5"/>
<path d="M1515.2 504.6H1567.7 M1515.8 504.6V677.7 M1537.4 504.6V663.4 M1566.7 504.6V663.4" stroke-width="1.8" />
<circle cx="1540.4" cy="523.0" r="2.3" stroke-width="1.6"/>
<path d="M1508 534.5h8v8h-8z" fill="#000" stroke="none"/>
<circle cx="1512.0" cy="538.5" r="1.5" stroke-width="0" fill="#fff"/>
<path d="M1566.7 516H1626.3" stroke-width="3.0" />
<path d="M1626.3 516V662" stroke-width="2.6" />
<path d="M1583.8 516L1587 507Q1594.4 499 1602 507L1605 516" stroke-width="1.6" />
<circle cx="1594.5" cy="511.3" r="3.2" stroke-width="1.5"/>
<path d="M1543.4 663.4H1566.5V677.7 M1543.4 663.4V677.7" stroke-width="1.6" />
<circle cx="1540.6" cy="650.6" r="2.4" stroke-width="1.6"/>
<circle cx="1537.8" cy="671.5" r="2.4" stroke-width="1.6"/>
<path d="M1516.9 678.8H1571Q1575.6 678.8 1575.6 684V713 M1516.9 681.2H1570Q1573.2 681.2 1573.2 685V713" stroke-width="1.4" />
<circle cx="1530.4" cy="696.3" r="1.3" stroke-width="0" fill="#000"/>
<circle cx="1544.5" cy="696.3" r="1.3" stroke-width="0" fill="#000"/>
<path d="M1566.5 665.3L1590 668.6" stroke-width="1.6" />
<path d="M1584.8 667L1593 655.3H1619L1626 662L1629.2 675.5 M1590 668.6L1629.2 675.5" stroke-width="1.6" />
<circle cx="1598.3" cy="661.0" r="2.6" stroke-width="1.5"/>
<circle cx="1607.4" cy="661.0" r="1.6" stroke-width="0" fill="#000"/>
<path d="M1596.5 676.5H1605.5A2.6 2.6 0 0 1 1605.5 681.6H1596.5A2.6 2.6 0 0 1 1596.5 676.5Z" stroke-width="1.4" />
<circle cx="1626.5" cy="678.5" r="1.8" stroke-width="1.3"/>
<path d="M1575.6 698.8H1633.3" stroke-width="1.6" />
<path d="M1575.6 712.9H1713.9" stroke-width="1.8" />
<path d="M1576.7 712.9V726H1608Q1611 726 1611 722V712.9 M1582 716H1604 M1582 721H1604" stroke-width="1.5" />
<path d="M1600 715h6v8h-6z" fill="#000" stroke="none"/>
<path d="M1611 720.4H1713.9" stroke-width="1.5" />
<path d="M1621.2 725L1643.4 733.1H1713.9 M1645.4 721L1681.7 722L1673.7 730L1650 729Z M1628 722L1645 721" stroke-width="1.7" />
<circle cx="1662.6" cy="723.4" r="2.4" stroke-width="0" fill="#000"/>
<path d="M1512.8 640V764Q1513 774 1523 774.3H1565Q1574 774 1574 764V700" stroke-width="3.8" />
<path d="M1510.5 650Q1510 700 1511 763" stroke-width="2.0" />
<path d="M1513 622.4h4v20h-4z M1509.6 638h7.3v40h-7.3z M1566.5 622.4h10.8v44h-10.8z" fill="#000" stroke="none"/>
<path d="M1568.5 628h5v5h-5zM1568.5 638h5v6h-5zM1568.5 650h5v5h-5z" fill="#fff" stroke="none"/>
<clipPath id="tc"><path d="M1512.3 699H1574V764Q1574 774 1565 774.3H1523Q1513 774 1512.3 764Z"/></clipPath>
<g clip-path="url(#tc)"><path d="M1511 702.0L1535 721.0 M1550.5 722.0L1577 704.0" stroke-width="2.6"/><path d="M1535 719.8H1550.5V725.5H1535Z" stroke-width="2.2"/><path d="M1533 726.5L1512 711.0 M1552 727.5L1577 713.0" stroke-width="1.3"/><path d="M1511 713.3L1535 732.3 M1550.5 733.3L1577 715.3" stroke-width="2.6"/><path d="M1535 731.1H1550.5V736.8H1535Z" stroke-width="2.2"/><path d="M1533 737.8L1512 722.3 M1552 738.8L1577 724.3" stroke-width="1.3"/><path d="M1511 724.6L1535 743.6 M1550.5 744.6L1577 726.6" stroke-width="2.6"/><path d="M1535 742.4H1550.5V748.1H1535Z" stroke-width="2.2"/><path d="M1533 749.1L1512 733.6 M1552 750.1L1577 735.6" stroke-width="1.3"/><path d="M1511 735.9L1535 754.9 M1550.5 755.9L1577 737.9" stroke-width="2.6"/><path d="M1535 753.7H1550.5V759.4H1535Z" stroke-width="2.2"/><path d="M1533 760.4L1512 744.9 M1552 761.4L1577 746.9" stroke-width="1.3"/><path d="M1511 747.2L1535 766.2 M1550.5 767.2L1577 749.2" stroke-width="2.6"/><path d="M1535 765.0H1550.5V770.7H1535Z" stroke-width="2.2"/><path d="M1533 771.7L1512 756.2 M1552 772.7L1577 758.2" stroke-width="1.3"/><path d="M1511 758.5L1535 777.5 M1550.5 778.5L1577 760.5" stroke-width="2.6"/><path d="M1535 776.3H1550.5V782.0H1535Z" stroke-width="2.2"/><path d="M1533 783.0L1512 767.5 M1552 784.0L1577 769.5" stroke-width="1.3"/></g>
<path d="M1514.5 699H1573 M1524 700L1530 712 M1544 699L1542 714 M1555 712L1565 702" stroke-width="1.6" />
<path d="M1629 486H1713.9" stroke-width="1.8" />
<path d="M1684.5 487h11v6l-4 6h-7z" fill="#000" stroke="none"/>
<path d="M1642 487.5Q1647 492 1652.5 487.5" stroke-width="2.4" />
<path d="M1700.5 487V499H1713.9 M1700.5 491.5H1713.9 M1700.5 495.5H1713.9" stroke-width="1.5" />
<path d="M1636.5 483.7H1631Q1629.6 483.7 1629.6 485.1V493.9Q1629.6 495.3 1631 495.3H1636.5" stroke-width="2.2" />
<path d="M1632.5 487.7A1.8 1.8 0 1 1 1632.5 491.3" stroke-width="1.4" />
<path d="M1636.5 502.8H1631Q1629.6 502.8 1629.6 504.20000000000005V513.0Q1629.6 514.4 1631 514.4H1636.5" stroke-width="2.2" />
<path d="M1632.5 506.8A1.8 1.8 0 1 1 1632.5 510.40000000000003" stroke-width="1.4" />
<path d="M1636.5 521.2H1631Q1629.6 521.2 1629.6 522.6V531.4Q1629.6 532.8 1631 532.8H1636.5" stroke-width="2.2" />
<path d="M1632.5 525.2A1.8 1.8 0 1 1 1632.5 528.8" stroke-width="1.4" />
<path d="M1636.5 539.2H1631Q1629.6 539.2 1629.6 540.6V549.4Q1629.6 550.8 1631 550.8H1636.5" stroke-width="2.2" />
<path d="M1632.5 543.2A1.8 1.8 0 1 1 1632.5 546.8" stroke-width="1.4" />
<path d="M1636.5 557.2H1631Q1629.6 557.2 1629.6 558.6V567.4Q1629.6 568.8 1631 568.8H1636.5" stroke-width="2.2" />
<path d="M1632.5 561.2A1.8 1.8 0 1 1 1632.5 564.8" stroke-width="1.4" />
<path d="M1636.5 574.7H1631Q1629.6 574.7 1629.6 576.1V584.9Q1629.6 586.3 1631 586.3H1636.5" stroke-width="2.2" />
<path d="M1632.5 578.7A1.8 1.8 0 1 1 1632.5 582.3" stroke-width="1.4" />
<path d="M1636.5 591.7H1631Q1629.6 591.7 1629.6 593.1V601.9Q1629.6 603.3 1631 603.3H1636.5" stroke-width="2.2" />
<path d="M1632.5 595.7A1.8 1.8 0 1 1 1632.5 599.3" stroke-width="1.4" />
<path d="M1638.8 486V618" stroke-width="3.2" />
<path d="M1653.7 486V618 M1659.6 486V618 M1661.9 486V618" stroke-width="1.6" />
<path d="M1655 486h3.3v132h-3.3z" fill="#666" stroke="none"/>
<path d="M1682.2 486V618" stroke-width="3.2" />
<path d="M1640.2 492H1652.8" stroke-width="2.6" />
<path d="M1640.2 502.5H1652.8" stroke-width="1.6" />
<path d="M1640.2 515H1652.8" stroke-width="1.6" />
<path d="M1640.2 521.5H1652.8" stroke-width="2.0" />
<path d="M1640.2 538H1652.8" stroke-width="1.6" />
<path d="M1640.2 550H1652.8" stroke-width="1.6" />
<path d="M1640.2 558.5H1652.8" stroke-width="1.6" />
<path d="M1640.2 572H1652.8" stroke-width="1.6" />
<path d="M1640.2 580H1652.8" stroke-width="1.6" />
<path d="M1640.2 587H1652.8" stroke-width="1.6" />
<path d="M1640.2 593H1652.8" stroke-width="2.0" />
<path d="M1640.2 601H1652.8" stroke-width="1.6" />
<path d="M1640.2 524.5h12.6v5h-12.6z M1640.2 561h12.6v5.5h-12.6z" fill="#000" stroke="none"/>
<path d="M1662 502H1681" stroke-width="2.2" />
<path d="M1662 515.5H1681" stroke-width="1.6" />
<path d="M1662 531.5H1681" stroke-width="1.6" />
<path d="M1662 535.5H1681" stroke-width="2.0" />
<path d="M1662 548.5H1681" stroke-width="1.6" />
<path d="M1662 558H1681" stroke-width="1.6" />
<path d="M1662 570H1681" stroke-width="1.6" />
<path d="M1662 573.5H1681" stroke-width="2.0" />
<path d="M1662 587H1681" stroke-width="1.6" />
<path d="M1662 596H1681" stroke-width="2.0" />
<path d="M1662 605H1681" stroke-width="1.6" />
<path d="M1662 491h19v4h-19z M1662 525h19v5.5h-19z M1662 560h19v5h-19z" fill="#000" stroke="none"/>
<path d="M1632.5 618V604Q1632.5 602.4 1634 602.4H1653.3V618" stroke-width="1.8" />
<circle cx="1644.1" cy="609.0" r="2.8" stroke-width="1.8"/>
<circle cx="1637.5" cy="614.0" r="1.3" stroke-width="0" fill="#000"/>
<path d="M1653.3 607.4H1713.9 M1653.3 610.7H1713.9" stroke-width="1.6" />
<path d="M1713.9 618.8H1643Q1636.6 618.8 1636.6 625V661.5H1713.9" stroke-width="2.2" />
<path d="M1636.6 661.5V684H1713.9" stroke-width="1.6" />
<path d="M1631.6 645.7H1637.5V703.9H1631.6Z" stroke-width="1.5" />
<path d="M1634.5 648V702" stroke-width="1.0" />
<circle cx="1659.0" cy="670.6" r="7.5" stroke-width="1.6"/>
<circle cx="1659.0" cy="670.6" r="5.0" stroke-width="1.4"/>
<path d="M1713.9 663.2H1672Q1668.2 663.2 1668.2 667V671Q1668.2 675.6 1673 675.6H1713.9" stroke-width="1.8" />
<path d="M1694.8 664h19.1v2.2h-19.1z M1694.8 668.2h19.1v1.8h-19.1z" fill="#000" stroke="none"/>
<path d="M1694.8 664V671.5H1713.9" stroke-width="1.5" />
<path d="M1626.8 653.6h3.2v8.7h-3.2z M1639.8 654h5v7h-5z" fill="#000" stroke="none"/>
<path d="M1641 656h2.6v3h-2.6z" fill="#fff" stroke="none"/>
<path d="M1631.8 602.5Q1629.5 625 1629.8 645" stroke-width="1.4" />
<path d="M1637.5 684.5H1713.9" stroke-width="1.6" />
<g transform="matrix(-1 0 0 1 3427.8 0)"><path d="M1629.5 199V407 M1640.2 199V407 M1642.5 312V407" stroke-width="1.8" /><path d="M1625 367.7h18v21.3h-18z" fill="#000" stroke="none"/><circle cx="1634.0" cy="378.0" r="2.6" stroke-width="0" fill="#fff"/><circle cx="1634.0" cy="378.0" r="1.0" stroke-width="0" fill="#000"/><path d="M1544 379h5v7h-5z M1544 390h5v12h-5z" fill="#000" stroke="none"/><circle cx="1538.5" cy="372.0" r="2.5" stroke-width="1.4"/><circle cx="1554.8" cy="393.6" r="2.5" stroke-width="1.4"/><circle cx="1561.0" cy="384.0" r="2.2" stroke-width="0" fill="#000"/><path d="M1544 360h7v10h-7z" fill="#000" stroke="none"/><path d="M1561.6 409.1H1713.9" stroke-width="3.0" /><path d="M1713.9 408.4H1547Q1541.5 408.4 1541.5 414V452.6Q1541.5 458.1 1547 458.1H1713.9" stroke-width="1.8" /><path d="M1713.9 485.3H1567.5L1531.1 457.4V421Q1531.1 415.8 1536 415.8H1541.5" stroke-width="2.0" /><circle cx="1626.2" cy="475.2" r="2.8" stroke-width="1.5"/><circle cx="1666.2" cy="475.2" r="2.8" stroke-width="1.5"/><path d="M1515.2 504.6H1567.7 M1515.8 504.6V677.7 M1537.4 504.6V663.4 M1566.7 504.6V663.4" stroke-width="1.8" /><circle cx="1540.4" cy="523.0" r="2.3" stroke-width="1.6"/><path d="M1508 534.5h8v8h-8z" fill="#000" stroke="none"/><circle cx="1512.0" cy="538.5" r="1.5" stroke-width="0" fill="#fff"/><path d="M1566.7 516H1626.3" stroke-width="3.0" /><path d="M1626.3 516V662" stroke-width="2.6" /><path d="M1583.8 516L1587 507Q1594.4 499 1602 507L1605 516" stroke-width="1.6" /><circle cx="1594.5" cy="511.3" r="3.2" stroke-width="1.5"/><path d="M1543.4 663.4H1566.5V677.7 M1543.4 663.4V677.7" stroke-width="1.6" /><circle cx="1540.6" cy="650.6" r="2.4" stroke-width="1.6"/><circle cx="1537.8" cy="671.5" r="2.4" stroke-width="1.6"/><path d="M1516.9 678.8H1571Q1575.6 678.8 1575.6 684V713 M1516.9 681.2H1570Q1573.2 681.2 1573.2 685V713" stroke-width="1.4" /><circle cx="1530.4" cy="696.3" r="1.3" stroke-width="0" fill="#000"/><circle cx="1544.5" cy="696.3" r="1.3" stroke-width="0" fill="#000"/><path d="M1566.5 665.3L1590 668.6" stroke-width="1.6" /><path d="M1584.8 667L1593 655.3H1619L1626 662L1629.2 675.5 M1590 668.6L1629.2 675.5" stroke-width="1.6" /><circle cx="1598.3" cy="661.0" r="2.6" stroke-width="1.5"/><circle cx="1607.4" cy="661.0" r="1.6" stroke-width="0" fill="#000"/><path d="M1596.5 676.5H1605.5A2.6 2.6 0 0 1 1605.5 681.6H1596.5A2.6 2.6 0 0 1 1596.5 676.5Z" stroke-width="1.4" /><circle cx="1626.5" cy="678.5" r="1.8" stroke-width="1.3"/><path d="M1575.6 698.8H1633.3" stroke-width="1.6" /><path d="M1575.6 712.9H1713.9" stroke-width="1.8" /><path d="M1576.7 712.9V726H1608Q1611 726 1611 722V712.9 M1582 716H1604 M1582 721H1604" stroke-width="1.5" /><path d="M1600 715h6v8h-6z" fill="#000" stroke="none"/><path d="M1611 720.4H1713.9" stroke-width="1.5" /><path d="M1621.2 725L1643.4 733.1H1713.9 M1645.4 721L1681.7 722L1673.7 730L1650 729Z M1628 722L1645 721" stroke-width="1.7" /><circle cx="1662.6" cy="723.4" r="2.4" stroke-width="0" fill="#000"/><path d="M1512.8 640V764Q1513 774 1523 774.3H1565Q1574 774 1574 764V700" stroke-width="3.8" /><path d="M1510.5 650Q1510 700 1511 763" stroke-width="2.0" /><path d="M1513 622.4h4v20h-4z M1509.6 638h7.3v40h-7.3z M1566.5 622.4h10.8v44h-10.8z" fill="#000" stroke="none"/><path d="M1568.5 628h5v5h-5zM1568.5 638h5v6h-5zM1568.5 650h5v5h-5z" fill="#fff" stroke="none"/><clipPath id="tc2"><path d="M1512.3 699H1574V764Q1574 774 1565 774.3H1523Q1513 774 1512.3 764Z"/></clipPath><g clip-path="url(#tc2)"><path d="M1511 702.0L1535 721.0 M1550.5 722.0L1577 704.0" stroke-width="2.6"/><path d="M1535 719.8H1550.5V725.5H1535Z" stroke-width="2.2"/><path d="M1533 726.5L1512 711.0 M1552 727.5L1577 713.0" stroke-width="1.3"/><path d="M1511 713.3L1535 732.3 M1550.5 733.3L1577 715.3" stroke-width="2.6"/><path d="M1535 731.1H1550.5V736.8H1535Z" stroke-width="2.2"/><path d="M1533 737.8L1512 722.3 M1552 738.8L1577 724.3" stroke-width="1.3"/><path d="M1511 724.6L1535 743.6 M1550.5 744.6L1577 726.6" stroke-width="2.6"/><path d="M1535 742.4H1550.5V748.1H1535Z" stroke-width="2.2"/><path d="M1533 749.1L1512 733.6 M1552 750.1L1577 735.6" stroke-width="1.3"/><path d="M1511 735.9L1535 754.9 M1550.5 755.9L1577 737.9" stroke-width="2.6"/><path d="M1535 753.7H1550.5V759.4H1535Z" stroke-width="2.2"/><path d="M1533 760.4L1512 744.9 M1552 761.4L1577 746.9" stroke-width="1.3"/><path d="M1511 747.2L1535 766.2 M1550.5 767.2L1577 749.2" stroke-width="2.6"/><path d="M1535 765.0H1550.5V770.7H1535Z" stroke-width="2.2"/><path d="M1533 771.7L1512 756.2 M1552 772.7L1577 758.2" stroke-width="1.3"/><path d="M1511 758.5L1535 777.5 M1550.5 778.5L1577 760.5" stroke-width="2.6"/><path d="M1535 776.3H1550.5V782.0H1535Z" stroke-width="2.2"/><path d="M1533 783.0L1512 767.5 M1552 784.0L1577 769.5" stroke-width="1.3"/></g><path d="M1514.5 699H1573 M1524 700L1530 712 M1544 699L1542 714 M1555 712L1565 702" stroke-width="1.6" /><path d="M1629 486H1713.9" stroke-width="1.8" /><path d="M1684.5 487h11v6l-4 6h-7z" fill="#000" stroke="none"/><path d="M1642 487.5Q1647 492 1652.5 487.5" stroke-width="2.4" /><path d="M1700.5 487V499H1713.9 M1700.5 491.5H1713.9 M1700.5 495.5H1713.9" stroke-width="1.5" /><path d="M1636.5 483.7H1631Q1629.6 483.7 1629.6 485.1V493.9Q1629.6 495.3 1631 495.3H1636.5" stroke-width="2.2" /><path d="M1632.5 487.7A1.8 1.8 0 1 1 1632.5 491.3" stroke-width="1.4" /><path d="M1636.5 502.8H1631Q1629.6 502.8 1629.6 504.20000000000005V513.0Q1629.6 514.4 1631 514.4H1636.5" stroke-width="2.2" /><path d="M1632.5 506.8A1.8 1.8 0 1 1 1632.5 510.40000000000003" stroke-width="1.4" /><path d="M1636.5 521.2H1631Q1629.6 521.2 1629.6 522.6V531.4Q1629.6 532.8 1631 532.8H1636.5" stroke-width="2.2" /><path d="M1632.5 525.2A1.8 1.8 0 1 1 1632.5 528.8" stroke-width="1.4" /><path d="M1636.5 539.2H1631Q1629.6 539.2 1629.6 540.6V549.4Q1629.6 550.8 1631 550.8H1636.5" stroke-width="2.2" /><path d="M1632.5 543.2A1.8 1.8 0 1 1 1632.5 546.8" stroke-width="1.4" /><path d="M1636.5 557.2H1631Q1629.6 557.2 1629.6 558.6V567.4Q1629.6 568.8 1631 568.8H1636.5" stroke-width="2.2" /><path d="M1632.5 561.2A1.8 1.8 0 1 1 1632.5 564.8" stroke-width="1.4" /><path d="M1636.5 574.7H1631Q1629.6 574.7 1629.6 576.1V584.9Q1629.6 586.3 1631 586.3H1636.5" stroke-width="2.2" /><path d="M1632.5 578.7A1.8 1.8 0 1 1 1632.5 582.3" stroke-width="1.4" /><path d="M1636.5 591.7H1631Q1629.6 591.7 1629.6 593.1V601.9Q1629.6 603.3 1631 603.3H1636.5" stroke-width="2.2" /><path d="M1632.5 595.7A1.8 1.8 0 1 1 1632.5 599.3" stroke-width="1.4" /><path d="M1638.8 486V618" stroke-width="3.2" /><path d="M1653.7 486V618 M1659.6 486V618 M1661.9 486V618" stroke-width="1.6" /><path d="M1655 486h3.3v132h-3.3z" fill="#666" stroke="none"/><path d="M1682.2 486V618" stroke-width="3.2" /><path d="M1640.2 492H1652.8" stroke-width="2.6" /><path d="M1640.2 502.5H1652.8" stroke-width="1.6" /><path d="M1640.2 515H1652.8" stroke-width="1.6" /><path d="M1640.2 521.5H1652.8" stroke-width="2.0" /><path d="M1640.2 538H1652.8" stroke-width="1.6" /><path d="M1640.2 550H1652.8" stroke-width="1.6" /><path d="M1640.2 558.5H1652.8" stroke-width="1.6" /><path d="M1640.2 572H1652.8" stroke-width="1.6" /><path d="M1640.2 580H1652.8" stroke-width="1.6" /><path d="M1640.2 587H1652.8" stroke-width="1.6" /><path d="M1640.2 593H1652.8" stroke-width="2.0" /><path d="M1640.2 601H1652.8" stroke-width="1.6" /><path d="M1640.2 524.5h12.6v5h-12.6z M1640.2 561h12.6v5.5h-12.6z" fill="#000" stroke="none"/><path d="M1662 502H1681" stroke-width="2.2" /><path d="M1662 515.5H1681" stroke-width="1.6" /><path d="M1662 531.5H1681" stroke-width="1.6" /><path d="M1662 535.5H1681" stroke-width="2.0" /><path d="M1662 548.5H1681" stroke-width="1.6" /><path d="M1662 558H1681" stroke-width="1.6" /><path d="M1662 570H1681" stroke-width="1.6" /><path d="M1662 573.5H1681" stroke-width="2.0" /><path d="M1662 587H1681" stroke-width="1.6" /><path d="M1662 596H1681" stroke-width="2.0" /><path d="M1662 605H1681" stroke-width="1.6" /><path d="M1662 491h19v4h-19z M1662 525h19v5.5h-19z M1662 560h19v5h-19z" fill="#000" stroke="none"/><path d="M1632.5 618V604Q1632.5 602.4 1634 602.4H1653.3V618" stroke-width="1.8" /><circle cx="1644.1" cy="609.0" r="2.8" stroke-width="1.8"/><circle cx="1637.5" cy="614.0" r="1.3" stroke-width="0" fill="#000"/><path d="M1653.3 607.4H1713.9 M1653.3 610.7H1713.9" stroke-width="1.6" /><path d="M1713.9 618.8H1643Q1636.6 618.8 1636.6 625V661.5H1713.9" stroke-width="2.2" /><path d="M1636.6 661.5V684H1713.9" stroke-width="1.6" /><path d="M1631.6 645.7H1637.5V703.9H1631.6Z" stroke-width="1.5" /><path d="M1634.5 648V702" stroke-width="1.0" /><circle cx="1659.0" cy="670.6" r="7.5" stroke-width="1.6"/><circle cx="1659.0" cy="670.6" r="5.0" stroke-width="1.4"/><path d="M1713.9 663.2H1672Q1668.2 663.2 1668.2 667V671Q1668.2 675.6 1673 675.6H1713.9" stroke-width="1.8" /><path d="M1694.8 664h19.1v2.2h-19.1z M1694.8 668.2h19.1v1.8h-19.1z" fill="#000" stroke="none"/><path d="M1694.8 664V671.5H1713.9" stroke-width="1.5" /><path d="M1626.8 653.6h3.2v8.7h-3.2z M1639.8 654h5v7h-5z" fill="#000" stroke="none"/><path d="M1641 656h2.6v3h-2.6z" fill="#fff" stroke="none"/><path d="M1631.8 602.5Q1629.5 625 1629.8 645" stroke-width="1.4" /><path d="M1637.5 684.5H1713.9" stroke-width="1.6" /></g>
<path d="M1533.7 190.7V412.5" stroke-width="2.2" />
<path d="M1543.6 199V410 M1560 199V410" stroke-width="3.0" />
<path d="M1551.2 199V410" stroke-width="1.4" />
<path d="M1569.7 199V302" stroke-width="2.2" />
<path d="M1547 205L1551 200 M1546.5 214L1551 206 M1546.5 290L1551 282 M1546.5 300L1551 292" stroke-width="1.2" />
<path d="M1545 226h19v4h-19z M1545 259.5h19v4h-19z" fill="#000" stroke="none"/>
<path d="M1553 222V273 M1556.4 222V273 M1553 273Q1555 276 1556.4 273" stroke-width="1.6" />
<path d="M1562 222l3 -3 1 1 -3 4z M1562 256l3 -3 1 1 -3 4z" fill="#000" stroke="none"/>
<path d="M1533.7 354.8H1550.6V412.5" stroke-width="1.4" />
<path d="M1581.8 539L1590 529.5Q1597.6 524.5 1605 529.5L1613.1 539L1605 548.5Q1597.6 553.5 1590 548.5Z" stroke-width="2.2" />
<circle cx="1597.6" cy="539.0" r="7.0" stroke-width="1.4"/>
<circle cx="1597.6" cy="539.0" r="4.2" stroke-width="1.8"/>
<circle cx="1585.5" cy="539.0" r="1.0" stroke-width="0" fill="#000"/>
<circle cx="1609.5" cy="539.0" r="1.0" stroke-width="0" fill="#000"/>
<path d="M1545 497V495Q1545 493 1547 493H1565Q1567 493 1567 495V504.2 M1551.2 497V504.2 M1556.4 497V504.2 M1561.4 497V504.2" stroke-width="1.6" />
<path d="M1543.4 493h24.3v4h-24.3z" fill="#000" stroke="none"/>
<path d="M1855 198.7V344.4H1866V198.7" stroke-width="2.0" />
<path d="M1863.3 198.7V344.4" stroke-width="2.6" />
<path d="M1867.3 198.7V420 M1876 198.7V410" stroke-width="1.5" />
<path d="M1878.2 198.7V410" stroke-width="2.0" />
<path d="M1883.7 198.7V354" stroke-width="2.8" />
<path d="M1892.9 190.7V415.4" stroke-width="2.2" />
<path d="M1877 210L1883 204 M1877 222L1883 216 M1877 300L1883 294" stroke-width="1.2" />
<path d="M1884.2 354.8H1892.9 M1884.2 354.8V415.4" stroke-width="1.8" />
<circle cx="1889.2" cy="372.6" r="2.3" stroke-width="1.6"/>
<path d="M1868.5 381H1877V406.8 M1868.5 381V406.8" stroke-width="1.5" />
<circle cx="1882.3" cy="358.0" r="2.6" stroke-width="0" fill="#000"/>
<circle cx="1866.0" cy="384.0" r="2.6" stroke-width="0" fill="#000"/>
<circle cx="1872.2" cy="399.0" r="2.3" stroke-width="1.6"/>
<path d="M1876.5 296h4v12h-4z M1876.5 318h4v14h-4z" fill="#000" stroke="none"/>
<path d="M1631.3 216.5h7.1v16h-7.1z" fill="#000" stroke="none"/>
<path d="M1633 220h3v4h-3zM1633 226h3v4h-3z" fill="#fff" stroke="none"/>
<path d="M1683.5 501.9H1745" stroke-width="3.2" />
<path d="M1683.5 515.3H1745" stroke-width="1.4" />
<path d="M1683.5 517.8H1745" stroke-width="1.6" />
<path d="M1683.5 532.3H1745" stroke-width="2.4" />
<path d="M1683.5 538.2H1745" stroke-width="2.2" />
<path d="M1683.5 551.5H1745" stroke-width="2.4" />
<path d="M1683.5 574H1745" stroke-width="2.4" />
<path d="M1683.5 588H1745" stroke-width="2.4" />
<path d="M1683.5 603.4H1745" stroke-width="3.2" />
<path d="M1683.5 610H1745" stroke-width="1.4" />
<path d="M1683.5 614.2H1745" stroke-width="1.8" />
<path d="M1698.7 486V558 M1729.5 486V558 M1698.7 586V606 M1729.5 586V606" stroke-width="2.0" />
<path d="M1685 555h6.5v18h-6.5z M1724 553h7v29h-7z M1696.6 568.5h4.2v4.2h-4.2z" fill="#000" stroke="none"/>
<path d="M1685 590h5l6 13l-3.5 4h-3l-4.5 -4z M1742 590h-5l-6 13l3.5 4h3l4.5 -4z" fill="#000" stroke="none"/>
<path d="M1726 583h3v5h-3z" fill="#fff" stroke="none"/>
<path d="M1791.3 502.6H1797Q1800 502.6 1800 505.6V511.6Q1800 514.6 1797 514.6H1791.3Z" fill="#000" stroke="none"/>
<path d="M1795.5 506.6A2 2 0 1 0 1795.5 510.6" stroke="#fff" stroke-width="1.3" fill="none"/>
<path d="M1791.3 539H1797Q1800 539 1800 542V548Q1800 551 1797 551H1791.3Z" fill="#000" stroke="none"/>
<path d="M1795.5 543A2 2 0 1 0 1795.5 547" stroke="#fff" stroke-width="1.3" fill="none"/>
<path d="M1791.3 574.5H1797Q1800 574.5 1800 577.5V583.5Q1800 586.5 1797 586.5H1791.3Z" fill="#000" stroke="none"/>
<path d="M1795.5 578.5A2 2 0 1 0 1795.5 582.5" stroke="#fff" stroke-width="1.3" fill="none"/>
<path d="M1531 77.5V318.5Q1531 322 1534 322 M1896.5 77.5V318.5Q1896.5 322 1893.5 322" stroke-width="1.9" />
<path d="M1533.9 190.7H1893.3 M1533.9 198.7H1893.3 M1893.3 190.7V198.7" stroke-width="2.0" />
<rect x="1562" y="304" width="293" height="6" fill="#fff" stroke="none"/>
<path d="M1561 303.2H1858 M1561 311.1H1858" stroke-width="2.6" />
<path d="M1630 339.4h22.5v17h-22.5z" fill="#000" stroke="none"/>
<path d="M1632.5 342h5v4h-3v2h3v4h-5zM1645 342h5v12h-5zM1641.5 347h3v2h-3z" fill="#fff" stroke="none"/>
<path d="M1652.7 312V407 M1772 318V407 M1652.7 317.8H1782" stroke-width="1.8" />
<path d="M1785.5 199V303 M1789 199V303 M1797 199V303 M1782.2 311V407 M1787.6 311V407 M1797.6 311V407" stroke-width="1.8" />
<path d="M1569.7 199H1858" stroke-width="1.4" />
<path d="M1580.6 199.6H1601V251.2H1580.6Z M1580.6 238H1601" stroke-width="1.8" />
<path d="M1584 245h7q2 0 2 2v4h-9z" stroke-width="1.4" />
<path d="M1575 251.5H1586L1604.5 287.5L1597.5 291.5Z" stroke-width="1.8" />
<path d="M1570.4 251H1601" stroke-width="1.8" />
<path d="M1571 230L1580.6 238 M1571 243L1580.6 238" stroke-width="1.3" />
<path d="M1854.6 232L1822.4 286L1828.3 291L1855 247.5" stroke-width="1.8" />
<path d="M1855 238Q1850 242 1852.5 247" stroke-width="1.2" />
<path d="M1877.3 232.5H1883.3V244.4H1877.3Z" stroke-width="1.4" />
<circle cx="1729.4" cy="230.8" r="2.2" stroke-width="0" fill="#000"/>
<circle cx="1770.4" cy="230.8" r="2.2" stroke-width="0" fill="#000"/>
<circle cx="1729.4" cy="264.1" r="2.2" stroke-width="0" fill="#000"/>
<circle cx="1770.4" cy="264.1" r="2.2" stroke-width="0" fill="#000"/>
<circle cx="1792.6" cy="237.9" r="1.0" stroke-width="0" fill="#000"/>
<circle cx="1859.4" cy="210.3" r="2.0" stroke-width="0" fill="#000"/>
<circle cx="1859.4" cy="217.4" r="2.0" stroke-width="0" fill="#000"/>
<circle cx="1871.9" cy="210.3" r="2.0" stroke-width="0" fill="#000"/>
<circle cx="1871.9" cy="217.4" r="2.0" stroke-width="0" fill="#000"/>
<circle cx="1859.4" cy="324.0" r="2.0" stroke-width="0" fill="#000"/>
<circle cx="1871.9" cy="324.0" r="2.0" stroke-width="0" fill="#000"/>
<path d="M1713.9 486V494" stroke-width="1.6" />
<circle cx="1842.2" cy="534.2" r="1.5" stroke-width="0" fill="#000"/>
<circle cx="1838.6" cy="563.3" r="1.5" stroke-width="0" fill="#000"/>
<circle cx="1845.7" cy="563.3" r="1.5" stroke-width="0" fill="#000"/>
<circle cx="1842.2" cy="572.0" r="1.5" stroke-width="0" fill="#000"/>
<circle cx="1849.7" cy="596.3" r="1.5" stroke-width="0" fill="#000"/>
<circle cx="1849.7" cy="621.1" r="1.5" stroke-width="0" fill="#000"/>
<circle cx="1849.7" cy="632.6" r="1.5" stroke-width="0" fill="#000"/>
<path d="M1509.5 639V841 M1509 834H1917 M1917 623V841" stroke-width="1.9" />
</g>
<g class="t">
<text transform="translate(670.4,80.3) scale(0.624,1)" text-anchor="middle">2790</text>
<text transform="translate(1166.5,80.3) scale(0.624,1)" text-anchor="middle">1520</text>
<text transform="translate(1713.3,80.3) scale(0.624,1)" text-anchor="middle">1600</text>
<text transform="translate(665.3,828.7) scale(0.624,1)" text-anchor="middle">3760</text>
<text transform="translate(1713.3,828.4) scale(0.624,1)" text-anchor="middle">1790</text>
<text transform="translate(33,483.2) rotate(-90) scale(0.624,1)" text-anchor="middle">2550</text>
<text transform="translate(113.5,574.2) rotate(-90) scale(0.624,1)" text-anchor="middle">1890</text>
</g>
</svg>
</body></html>
